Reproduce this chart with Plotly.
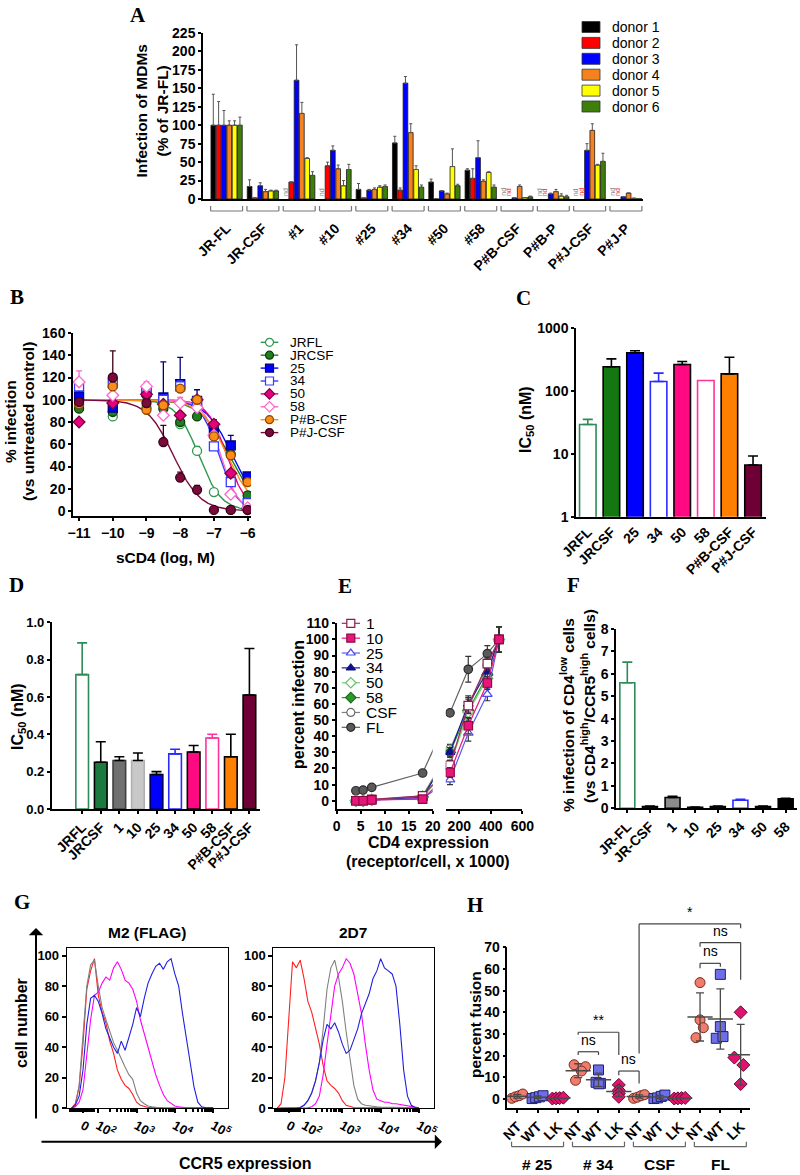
import numpy as np
import plotly.graph_objects as go

W, H = 800, 1175
FONT = "Liberation Sans"
SERIF = "Liberation Serif"

# ======================= DATA =======================
# ---- Panel A : infection of MDMs (% of JR-FL), six donors
A_GROUPS = ["JR-FL", "JR-CSF", "#1", "#10", "#25", "#34", "#50", "#58",
            "P#B-CSF", "P#B-P", "P#J-CSF", "P#J-P"]
A_DONORS = ["donor 1", "donor 2", "donor 3", "donor 4", "donor 5", "donor 6"]
A_DONOR1 = [100, 17, None, None, 13, 76, 23, 39, None, None, None, None]
A_DONOR2 = [100, 1.5, 23, 45, 1.5, 12, 0, 28, None, None, None, None]
A_DONOR3 = [100, 18, 161, 66, 12, 157, 11, 56, 1.5, 7, 66, 3]
A_DONOR4 = [100, 10, 116, 41, 13, 90, 7, 24, 17, 10, 93, 8]
A_DONOR5 = [100, 11, 55, 18, 16, 40, 44, 36, 2, 4, 46, 1]
A_DONOR6 = [100, 11, 32, 40, 17, 16, 18, 16, 3, 3, 51, 0.5]
A_DONOR1_ERR = [42, 9, 0, 0, 8, 9, 4, 2, 0, 0, 0, 0]
A_DONOR2_ERR = [32, 0, 0, 5, 0, 3, 0, 13, 0, 0, 0, 0]
A_DONOR3_ERR = [20, 4, 48, 6, 1, 9, 0, 23, 0, 1, 9, 0]
A_DONOR4_ERR = [6, 3, 15, 5, 2, 12, 1, 2, 2, 3, 9, 0]
A_DONOR5_ERR = [6, 1, 1, 7, 2, 5, 24, 1, 0, 3, 1, 0]
A_DONOR6_ERR = [11, 1, 5, 7, 2, 3, 2, 3, 1, 2, 11, 0]
A_Y_TICKS = [0, 25, 50, 75, 100, 125, 150, 175, 200, 225]

# ---- Panel B : sCD4 inhibition curves
B_DOSES = [-11, -10, -9, -8.5, -8, -7.5, -7, -6.5, -6]
B_SERIES = ["JRFL", "JRCSF", "25", "34", "50", "58", "P#B-CSF", "P#J-CSF"]
B_JRFL = [95, 85, 93, 95, 78, 54, 17, 1, 1]
B_JRCSF = [92, 89, 104, 92, 80, 85, 75, 51, 14]
B_25 = [103, 93, 107, 102, 114, 99, 70, 59, 31]
B_34 = [112, 115, 108, 100, 112, 98, 58, 26, 7]
B_50 = [80, 97, 105, 96, 86, 100, 78, 34, 2]
B_58 = [116, 104, 112, 86, 97, 93, 68, 15, 3]
B_PBCSF = [96, 112, 91, 95, 110, 100, 67, 50, 26]
B_PJCSF = [98, 120, 97, 62, 30, 19, 1, 1, 1]
B_JRFL_ERR = [0, 0, 0, 0, 0, 4, 0, 0, 0]
B_JRCSF_ERR = [0, 0, 3, 0, 0, 0, 5, 0, 3]
B_25_ERR = [8, 0, 6, 32, 24, 10, 6, 9, 3]
B_34_ERR = [5, 3, 4, 0, 5, 3, 3, 3, 2]
B_50_ERR = [0, 0, 0, 0, 0, 2, 4, 0, 0]
B_58_ERR = [10, 0, 4, 0, 5, 0, 0, 3, 0]
B_PBCSF_ERR = [0, 5, 0, 0, 0, 0, 0, 0, 2]
B_PJCSF_ERR = [0, 24, 0, 15, 5, 4, 0, 0, 0]
B_LOGIC50 = [-7.45, -6.55, -6.45, -6.85, -6.62, -6.80, -6.60, -8.20]   # fitted log IC50
B_HILL = [1.3, 1.0, 1.1, 1.6, 1.5, 1.7, 1.1, 1.1]                     # fitted Hill slopes
B_Y_TICKS = [0, 20, 40, 60, 80, 100, 120, 140, 160]
B_X_TICKS = [-11, -10, -9, -8, -7, -6]

# ---- Panel C : sCD4 IC50 (nM)
C_LABELS = ["JRFL", "JRCSF", "25", "34", "50", "58", "P#B-CSF", "P#J-CSF"]
C_IC50 = [29, 240, 400, 140, 260, 145, 185, 6.6]
C_ERR = [6, 80, 30, 50, 30, 0, 155, 2.6]

# ---- Panel D : IC50 (nM)
D_LABELS = ["JRFL", "JRCSF", "1", "10", "25", "34", "50", "58", "P#B-CSF", "P#J-CSF"]
D_IC50 = [0.72, 0.25, 0.26, 0.26, 0.185, 0.295, 0.305, 0.38, 0.28, 0.61]
D_ERR = [0.17, 0.11, 0.02, 0.04, 0.015, 0.025, 0.035, 0.02, 0.12, 0.25]
D_Y_TICKS = [0.0, 0.2, 0.4, 0.6, 0.8, 1.0]

# ---- Panel E : percent infection vs CD4 expression
E_CD4_LOW = [4.0, 5.5, 7.3, 17.9]
E_CD4_HIGH = [141, 257, 378, 452]
E_SERIES = ["1", "10", "25", "34", "50", "58", "CSF", "FL"]
E_1 = [0, 0, 0.8, 3.0, 22, 59, 85, 100]
E_10 = [0, 0, 0.5, 1.0, 17.5, 46.5, 73, 100]
E_25 = [0, 0, 0.3, 1.5, 13, 42, 66, 100]
E_34 = [0, 0, 0.5, 2.0, 30, 60, 80, 100]
E_50 = [0, 0, 0.5, 2.0, 22, 55, 76, 100]
E_58 = [0, 0, 0.5, 2.5, 30, 56, 78, 100]
E_CSF = [0, 0, 0.5, 3.0, 32, 58, 84, 100]
E_FL = [6.2, 6.6, 8.3, 17.2, 54.5, 81.5, 91.2, 100]
E_ERR = [0, 0, 0, 0, 3, 5, 4, 8]
E_FL_ERR = [0, 0, 0, 0, 0, 8, 5, 8]
E_Y_TICKS = [0, 10, 20, 30, 40, 50, 60, 70, 80, 90, 100, 110]
E_X_TICKS_LOW = [0, 5, 10, 15, 20]
E_X_TICKS_HIGH = [200, 400, 600]

# ---- Panel F : % infection of CD4low cells
F_LABELS = ["JR-FL", "JR-CSF", "1", "10", "25", "34", "50", "58"]
F_VALUES = [5.6, 0.08, 0.48, 0.05, 0.08, 0.36, 0.08, 0.42]
F_ERR = [0.92, 0.02, 0.05, 0.01, 0.02, 0.04, 0.02, 0.03]
F_Y_TICKS = [0, 1, 2, 3, 4, 5, 6, 7, 8]

# ---- Panel G : CCR5 flow histograms (channel = log10 position on biexponential scale)
G_CHANNEL = [1.3, 1.4, 1.5, 1.6, 1.7, 1.8, 1.9, 2.0, 2.1, 2.2, 2.3, 2.4, 2.5, 2.6, 2.7, 2.8, 2.9,
             3.0, 3.1, 3.2, 3.3, 3.4, 3.5, 3.6, 3.7, 3.8, 3.9, 4.0, 4.1, 4.2, 4.3, 4.4, 4.5,
             4.6, 4.7, 4.8, 4.9, 5.0]
G_M2_RED = [0, 3, 14, 42, 78, 90, 98, 74, 63, 56, 44, 36, 25, 19, 15, 13, 9,
            4, 2, 1, 0.5, 0.5, 0.3, 0.3, 0.2, 0.2, 0.2, 0.2, 0.2, 0.2, 0.2, 0.2, 0.2,
            0.2, 0.2, 0.2, 0.2, 0.2]
G_M2_GRAY = [0, 2, 15, 45, 80, 94, 97, 80, 66, 58, 50, 43, 38, 32, 27, 22, 19,
             10, 5, 3, 1.5, 1, 0.5, 0.4, 0.3, 0.3, 0.3, 0.3, 0.2, 0.2, 0.2, 0.2, 0.2,
             0.2, 0.2, 0.2, 0.2, 0.2]
G_M2_MAGENTA = [0, 1, 4, 12, 35, 58, 74, 76, 82, 86, 84, 92, 96, 91, 84, 82, 78,
                70, 58, 49, 40, 32, 22, 15, 9, 5, 3, 1.5, 1, 0.5, 0.4, 0.3, 0.3,
                0.3, 0.3, 0.3, 0.3, 0.3]
G_M2_BLUE = [0, 2, 8, 25, 55, 72, 74, 70, 62, 52, 46, 40, 36, 44, 38, 46, 55,
             66, 60, 72, 82, 88, 93, 95, 91, 96, 98, 88, 80, 62, 45, 28, 14,
             4, 1, 0.5, 0.3, 0.3]
G_2D7_RED = [0, 3, 20, 60, 96, 92, 97, 85, 70, 63, 52, 42, 28, 18, 15, 13, 10,
             5, 2, 1, 0.5, 0.4, 0.3, 0.3, 0.3, 0.3, 0.3, 0.3, 0.3, 0.3, 0.3, 0.3, 0.3,
             0.3, 0.3, 0.3, 0.3, 0.3]
G_2D7_GRAY = [0, 0, 0, 0, 0, 0.3, 0.5, 2, 5, 10, 18, 30, 52, 78, 92, 97, 86,
              70, 50, 32, 15, 6, 3, 2, 1.5, 1, 1, 0.8, 0.7, 0.6, 0.5, 0.5, 0.5,
              0.4, 0.3, 0.3, 0.3, 0.3]
G_2D7_MAGENTA = [0, 0, 0, 0, 0, 0, 0, 0, 0.3, 1, 3, 8, 22, 42, 62, 80, 88,
                 92, 98, 95, 88, 76, 62, 42, 25, 12, 6, 5, 4, 4, 3, 3, 2.5,
                 2, 1.5, 1, 0.5, 0.3]
G_2D7_BLUE = [0, 0, 0, 0, 0, 0, 0.5, 2, 5, 10, 18, 30, 45, 55, 52, 56, 50,
              42, 36, 38, 45, 52, 62, 68, 75, 85, 90, 98, 92, 90, 88, 80, 55,
              25, 8, 2, 0.5, 0.3]
G_TICKVALS = [1.6, 2, 3, 4, 5]
G_TICKTEXT = ["0", "10<sup>2</sup>", "10<sup>3</sup>", "10<sup>4</sup>", "10<sup>5</sup>"]
G_Y_TICKS = [0, 20, 40, 60, 80, 100]

# ---- Panel H : percent fusion
H_CATS = ["NT", "WT", "LK"] * 4
H_GROUP_LABELS = ["# 25", "# 34", "CSF", "FL"]
H_NT_25 = [0.3, 1.0, 1.5, 2.3]
H_WT_25 = [0.2, 0.6, 1.0, 1.5]
H_LK_25 = [0.2, 0.3, 0.4, 0.6]
H_NT_34 = [15.8, 14.9, 12.9, 8.6]
H_WT_34 = [13.4, 7.7, 7.2, 7.0]
H_LK_34 = [6.5, 4.0, 2.5, 1.0]
H_NT_CSF = [0.3, 0.8, 1.5, 2.0]
H_WT_CSF = [0.2, 0.5, 1.2, 1.8]
H_LK_CSF = [0.2, 0.3, 0.4, 0.5]
H_NT_FL = [53.7, 36.5, 32.9, 28.3]
H_WT_FL = [57.5, 33.4, 28.0, 28.8]
H_LK_FL = [40.0, 19.1, 15.7, 6.9]
H_Y_TICKS = [0, 10, 20, 30, 40, 50, 60, 70]
# significance: (from category, to category, bracket top, left leg end, right leg end, label)
H_SIG = [(3, 4, 21.8, 20.3, 20.3, "ns"),
         (3, 5, 30.8, 29.6, 20.3, "**"),
         (5, 6, 12.9, 11.0, 7.2, "ns"),
         (6, 11, 80.8, 21.0, 78.8, "*"),
         (9, 10, 62.6, 60.3, 61.0, "ns"),
         (9, 11, 72.2, 70.3, 55.0, "ns")]

# ======================= STYLE / GEOMETRY =======================
A_COLORS = ["#000000", "#ff0000", "#0000ff", "#f5821f", "#ffff00", "#3d7f0a"]
B_FILL = ["white", "#1f7f1f", "#0000ff", "white", "#e6007e", "white", "#ff8c1a", "#7a0a3c"]
B_EDGE = ["#2e9a4e", "#0d3d0d", "#00007a", "#3a3aff", "#7a0040", "#ff66cc", "#8a4a00", "#3a0018"]
B_LINE = ["#2e9a4e", "#1f7f1f", "#0000ff", "#3a3aff", "#e6007e", "#ff66cc", "#ff8c1a", "#7a0a3c"]
B_SYMBOL = ["circle", "circle", "square", "square", "diamond", "diamond", "circle", "circle"]
C_FILL = ["white", "#12780f", "#0000ff", "white", "#ff0a82", "white", "#ff8000", "#6e0036"]
C_EDGE = ["#2e8b57", "black", "black", "#2a2aff", "black", "#ff3399", "black", "black"]
D_FILL = ["white", "#1b7a3e", "#707070", "#c8c8c8", "#0000ff", "white", "#ff0a82", "white", "#ff8000", "#6e0036"]
D_EDGE = ["#2e8b57", "black", "#404040", "#b0b0b0", "#000060", "#2a2aff", "black", "#ff3399", "black", "black"]
E_SYMBOL = ["square", "square", "triangle-up", "triangle-up", "diamond", "diamond", "circle", "circle"]
E_FILL = ["white", "#e8157c", "white", "#10108a", "white", "#2a9a2a", "white", "#5a5a5a"]
E_EDGE = ["#8a1a50", "#8a0a40", "#4a4aee", "#10108a", "#6abf6a", "#1a6a1a", "#6a6a6a", "#2a2a2a"]
E_LINE = ["#9b2a62", "#e8157c", "#5a5aee", "#1a1a9a", "#7acc7a", "#2a9a2a", "#808080", "#606060"]
F_FILL = ["white", "#1e3b1e", "#8c8c8c", "#111111", "#101040", "white", "#111111", "#000000"]
F_EDGE = ["#2e8b57", "black", "black", "black", "black", "#2a2aff", "black", "black"]
G_COLORS = ["#ff2020", "#808080", "#ff00ff", "#2020e0"]
H_FILL = ["#f07c6c", "#6e6ee6", "#e0146e"]
H_EDGE = ["#7a2a20", "#202070", "#6a0030"]
H_SYMBOL = ["circle", "square", "diamond"]

# pixel geometry of each plot area: x pixels (left,right), x range, y pixels (bottom,top), y range
GEO = {
    "A": dict(x=(203, 643), xr=(-0.65, 11.47), y=(199, 33), yr=(0, 225)),
    "B": dict(x=(73, 251), xr=(-11.18, -5.9), y=(516, 333), yr=(-4.5, 160)),
    "C": dict(x=(576, 766), xr=(-0.5, 7.55), y=(516.7, 327.7), yr=(0, 3), ylog=True),
    "D": dict(x=(51.7, 260), xr=(-1.64, 9.57), y=(809, 622.3), yr=(0, 1.0)),
    "E1": dict(x=(336.7, 432.7), xr=(0, 20), y=(809.3, 623.3), yr=(-5.3, 110)),
    "E2": dict(x=(445.7, 522.3), xr=(113.7, 600), y=(809.3, 623.3), yr=(-5.3, 110)),
    "F": dict(x=(616, 797), xr=(-0.5, 7.5), y=(808.3, 629), yr=(0, 8)),
    "G1": dict(x=(66.7, 227.7), xr=(1.175, 5.38), y=(1108.3, 948.3), yr=(0, 104.8)),
    "G2": dict(x=(273.3, 434.3), xr=(1.198, 5.40), y=(1108.3, 948.3), yr=(0, 104.8)),
    "H": dict(x=(507.3, 750), xr=(-0.49, 11.46), y=(1108.3, 947.3), yr=(-4.3, 70)),
}


def mapx(p, v):
    g = GEO[p]
    (p0, p1), (r0, r1) = g["x"], g["xr"]
    return p0 + (v - r0) / (r1 - r0) * (p1 - p0)


def invx(p, px):
    g = GEO[p]
    (p0, p1), (r0, r1) = g["x"], g["xr"]
    return r0 + (px - p0) / (p1 - p0) * (r1 - r0)


def mapy(p, v):
    g = GEO[p]
    (p0, p1), (r0, r1) = g["y"], g["yr"]
    if g.get("ylog"):
        v = np.log10(v)
    return p0 + (v - r0) / (r1 - r0) * (p1 - p0)


shapes, anns = [], []


def line(x0, y0, x1, y1, color="black", width=1.0):
    shapes.append(dict(type="line", xref="paper", yref="paper",
                       x0=x0 / W, y0=1 - y0 / H, x1=x1 / W, y1=1 - y1 / H,
                       line=dict(color=color, width=width)))


def text(t, x, y, size=16, bold=True, angle=0, xanchor="center", yanchor="middle",
         family=FONT, color="black"):
    anns.append(dict(text=f"<b>{t}</b>" if bold else t, x=x / W, y=1 - y / H,
                     xref="paper", yref="paper", showarrow=False, textangle=angle,
                     xanchor=xanchor, yanchor=yanchor,
                     font=dict(family=family, size=size, color=color)))


def nz(arr):
    return [e if e else None for e in arr]


def base_axis(size=14):
    return dict(showline=True, linecolor="black", linewidth=1.5, ticks="outside",
                ticklen=3, tickwidth=1.5, tickcolor="black", showgrid=False,
                zeroline=False, fixedrange=True, automargin=False,
                tickfont=dict(family=FONT, size=size, color="black", weight="bold"))


def xax(p, anchor, **kw):
    g = GEO[p]
    d = base_axis(kw.pop("size", 14))
    d.update(domain=[g["x"][0] / W, g["x"][1] / W], range=list(g["xr"]), anchor=anchor)
    d.update(kw)
    return d


def yax(p, anchor, **kw):
    g = GEO[p]
    d = base_axis(kw.pop("size", 14))
    d.update(domain=[1 - g["y"][0] / H, 1 - g["y"][1] / H], range=list(g["yr"]), anchor=anchor)
    d.update(kw)
    return d


fig = go.Figure()
OV = dict(xaxis="x11", yaxis="y11")  # full-page pixel overlay, used for legend glyphs

# ======================= PANEL A =======================
A_VALUES = [A_DONOR1, A_DONOR2, A_DONOR3, A_DONOR4, A_DONOR5, A_DONOR6]
A_ERRS = [A_DONOR1_ERR, A_DONOR2_ERR, A_DONOR3_ERR, A_DONOR4_ERR, A_DONOR5_ERR, A_DONOR6_ERR]
nA = len(A_GROUPS)
for k in range(6):
    fig.add_trace(go.Bar(
        x=list(range(nA)), y=A_VALUES[k], name=A_DONORS[k], showlegend=False,
        marker=dict(color=A_COLORS[k], line=dict(color="#1a1a1a", width=0.8)),
        error_y=dict(type="data", symmetric=False, array=nz(A_ERRS[k]), arrayminus=[0] * nA,
                     color="#555555", thickness=1, width=1.5),
        xaxis="x", yaxis="y"))
GROUP_W = 0.88
for k in range(2):
    for g in range(nA):
        if A_VALUES[k][g] is None:
            xc = g - GROUP_W / 2 + (k + 0.5) * GROUP_W / 6
            text("nd", mapx("A", xc), mapy("A", 0) - 1, size=7, bold=False, angle=-90,
                 yanchor="bottom", color=["#888888", "#ff3030"][k])
for g in range(nA):
    x0, x1 = mapx("A", g - 0.44), mapx("A", g + 0.44)
    line(x0, 211, x1, 211, "#777777", 1.2)
    line(x0, 211, x0, 206, "#777777", 1.2)
    line(x1, 211, x1, 206, "#777777", 1.2)
for k, nm in enumerate(A_DONORS):
    yc = 27 + k * 15.9
    shapes.append(dict(type="rect", xref="paper", yref="paper", x0=582 / W, x1=600 / W,
                       y0=1 - (yc + 5.5) / H, y1=1 - (yc - 5.5) / H,
                       fillcolor=A_COLORS[k], line=dict(color="#333333", width=0.8)))
    text(nm, 610, yc, size=14, bold=False, xanchor="left")
text("Infection of MDMs", 141.5, 111, size=15.5, angle=-90)
text("(% of JR-FL)", 162.5, 111, size=15.5, angle=-90)
text("A", 138, 15, size=21, family=SERIF)

# ======================= PANEL B =======================
B_VALUES = [B_JRFL, B_JRCSF, B_25, B_34, B_50, B_58, B_PBCSF, B_PJCSF]
B_ERRS = [B_JRFL_ERR, B_JRCSF_ERR, B_25_ERR, B_34_ERR, B_50_ERR, B_58_ERR, B_PBCSF_ERR, B_PJCSF_ERR]
dose_fine = np.linspace(B_DOSES[0], B_DOSES[-1], 240)
for i in range(len(B_SERIES)):
    fit = 100.0 / (1.0 + 10 ** ((dose_fine - B_LOGIC50[i]) * B_HILL[i]))
    fig.add_trace(go.Scatter(x=dose_fine, y=fit, mode="lines", showlegend=False,
                             line=dict(color=B_LINE[i], width=1.4), xaxis="x2", yaxis="y2"))
for i in range(len(B_SERIES)):
    fig.add_trace(go.Scatter(
        x=B_DOSES, y=B_VALUES[i], mode="markers", showlegend=False, name=B_SERIES[i],
        marker=dict(symbol=B_SYMBOL[i], size=9, color=B_FILL[i], line=dict(color=B_EDGE[i], width=1.3)),
        error_y=dict(type="data", symmetric=False, array=nz(B_ERRS[i]), arrayminus=[0] * len(B_DOSES),
                     color=B_EDGE[i] if B_FILL[i] != "white" else B_LINE[i], thickness=1.3, width=3),
        xaxis="x2", yaxis="y2"))
# legend
for i, nm in enumerate(B_SERIES):
    yc = 342.3 + i * 12.9
    fig.add_trace(go.Scatter(x=[260.7, 278.3], y=[yc, yc], mode="lines", showlegend=False,
                             line=dict(color=B_LINE[i], width=1.4), **OV))
    text(nm, 287.5, yc, size=13.5, bold=False, xanchor="left")
fig.add_trace(go.Scatter(x=[269.5] * 8, y=[342.3 + i * 12.9 for i in range(8)], mode="markers",
                         showlegend=False,
                         marker=dict(symbol=B_SYMBOL, size=8, color=B_FILL,
                                     line=dict(color=B_EDGE, width=1.2)), **OV))
text("% infection", 11, 422, size=15.5, angle=-90)
text("(vs untreated control)", 29, 422, size=15.5, angle=-90)
text("sCD4 (log, M)", 165, 557, size=15.5)
text("B", 17, 297, size=21, family=SERIF)

# ======================= PANEL C =======================
nC = len(C_LABELS)
fig.add_trace(go.Bar(x=list(range(nC)), y=C_IC50, width=0.7, showlegend=False,
                     marker=dict(color=C_FILL, line=dict(color=C_EDGE, width=1.6)),
                     xaxis="x3", yaxis="y3"))
for i in range(nC):
    if C_ERR[i]:
        fig.add_trace(go.Scatter(x=[i], y=[C_IC50[i]], mode="markers", showlegend=False,
                                 marker=dict(size=1, color="rgba(0,0,0,0)"),
                                 error_y=dict(type="data", symmetric=False, array=[C_ERR[i]],
                                              arrayminus=[0], color=C_EDGE[i], thickness=1.6, width=5),
                                 xaxis="x3", yaxis="y3"))
text("IC<sub>50</sub> (nM)", 526, 420, size=16, angle=-90)
text("C", 523, 298, size=21, family=SERIF)

# ======================= PANEL D =======================
nD = len(D_LABELS)
fig.add_trace(go.Bar(x=list(range(nD)), y=D_IC50, width=0.68, showlegend=False,
                     marker=dict(color=D_FILL, line=dict(color=D_EDGE, width=1.6)),
                     xaxis="x4", yaxis="y4"))
for i in range(nD):
    fig.add_trace(go.Scatter(x=[i], y=[D_IC50[i]], mode="markers", showlegend=False,
                             marker=dict(size=1, color="rgba(0,0,0,0)"),
                             error_y=dict(type="data", symmetric=False, array=[D_ERR[i]],
                                          arrayminus=[0], color=D_EDGE[i] if D_FILL[i] == "white" else "black",
                                          thickness=1.6, width=5),
                             xaxis="x4", yaxis="y4"))
text("IC<sub>50</sub> (nM)", 18, 717, size=16, angle=-90)
text("D", 16, 585, size=21, family=SERIF)

# ======================= PANEL E =======================
E_VALUES = [E_1, E_10, E_25, E_34, E_50, E_58, E_CSF, E_FL]
nlow = len(E_CD4_LOW)
order = [7, 6, 5, 4, 3, 2, 0, 1]
for i in order:
    vals = E_VALUES[i]
    errs = E_FL_ERR if E_SERIES[i] == "FL" else E_ERR
    mk = dict(symbol=E_SYMBOL[i], size=8.5, color=E_FILL[i], line=dict(color=E_EDGE[i], width=1.2))
    # connector across the axis break (drawn in screen space, clipped at the break)
    x_equiv = invx("E1", mapx("E2", E_CD4_HIGH[0]))
    fig.add_trace(go.Scatter(x=[E_CD4_LOW[-1], x_equiv], y=[vals[nlow - 1], vals[nlow]], mode="lines",
                             showlegend=False, line=dict(color=E_LINE[i], width=1.2),
                             xaxis="x5", yaxis="y5"))
    fig.add_trace(go.Scatter(x=E_CD4_LOW, y=vals[:nlow], mode="lines+markers", showlegend=False,
                             line=dict(color=E_LINE[i], width=1.2), marker=mk, xaxis="x5", yaxis="y5"))
    fig.add_trace(go.Scatter(x=E_CD4_HIGH, y=vals[nlow:], mode="lines+markers", showlegend=False,
                             line=dict(color=E_LINE[i], width=1.2), marker=mk,
                             error_y=dict(type="data", array=nz(errs[nlow:]), color="#333333",
                                          thickness=1.2, width=3),
                             xaxis="x6", yaxis="y5"))
for i, nm in enumerate(E_SERIES):
    yc = 623.3 + i * 14.86
    fig.add_trace(go.Scatter(x=[341.7, 360], y=[yc, yc], mode="lines", showlegend=False,
                             line=dict(color=E_LINE[i], width=1.2), **OV))
    text(nm, 364, yc, size=15.5, bold=False, xanchor="left")
fig.add_trace(go.Scatter(x=[350.8] * 8, y=[623.3 + i * 14.86 for i in range(8)], mode="markers",
                         showlegend=False,
                         marker=dict(symbol=E_SYMBOL, size=8, color=E_FILL,
                                     line=dict(color=E_EDGE, width=1.2)), **OV))
text("percent infection", 298, 705, size=16, angle=-90)
text("CD4 expression", 428, 843, size=16)
text("(receptor/cell, x 1000)", 428, 861, size=16)
text("E", 345, 586, size=21, family=SERIF)

# ======================= PANEL F =======================
nF = len(F_LABELS)
fig.add_trace(go.Bar(x=list(range(nF)), y=F_VALUES, width=0.66, showlegend=False,
                     marker=dict(color=F_FILL, line=dict(color=F_EDGE, width=1.6)),
                     xaxis="x7", yaxis="y7"))
for i in range(nF):
    fig.add_trace(go.Scatter(x=[i], y=[F_VALUES[i]], mode="markers", showlegend=False,
                             marker=dict(size=1, color="rgba(0,0,0,0)"),
                             error_y=dict(type="data", symmetric=False, array=[F_ERR[i]],
                                          arrayminus=[0], color=F_EDGE[i], thickness=1.6, width=5),
                             xaxis="x7", yaxis="y7"))
text("% infection of CD4<sup>low</sup> cells", 567, 715, size=15.5, angle=-90)
text("(vs CD4<sup>high</sup>/CCR5<sup>high</sup> cells)", 588, 706, size=15.5, angle=-90)
text("F", 573, 585, size=21, family=SERIF)

# ======================= PANEL G =======================
G_SETS = [("x8", "y8", [G_M2_RED, G_M2_GRAY, G_M2_MAGENTA, G_M2_BLUE]),
          ("x9", "y9", [G_2D7_RED, G_2D7_GRAY, G_2D7_MAGENTA, G_2D7_BLUE])]
for xa, ya, curves in G_SETS:
    for c, ys in enumerate(curves):
        fig.add_trace(go.Scatter(x=G_CHANNEL, y=ys, mode="lines", showlegend=False,
                                 line=dict(color=G_COLORS[c], width=1.1),
                                 xaxis=xa, yaxis=ya))
text("M2 (FLAG)", 147, 932, size=15.5)
text("2D7", 353, 932, size=15.5)
text("cell number", 22, 1023, size=16, angle=-90)
text("CCR5 expression", 245, 1163, size=16)
anns.append(dict(x=36 / W, y=1 - 928 / H, xref="paper", yref="paper", ax=0, ay=192,
                 showarrow=True, arrowhead=1, arrowsize=1.2, arrowwidth=2, arrowcolor="black", text=""))
anns.append(dict(x=442 / W, y=1 - 1141.7 / H, xref="paper", yref="paper", ax=-402, ay=0,
                 showarrow=True, arrowhead=1, arrowsize=1.2, arrowwidth=2, arrowcolor="black", text=""))
text("G", 22, 902, size=21, family=SERIF)
g_minor = sorted([np.log10(m * 10 ** e) for e in (2, 3, 4) for m in range(2, 10)] +
                 [1.25, 1.3, 1.35, 1.4, 1.45, 1.5, 1.55, 1.65, 1.7, 1.75, 1.8, 1.85, 1.9])

# ======================= PANEL H =======================
H_VALUES = [H_NT_25, H_WT_25, H_LK_25, H_NT_34, H_WT_34, H_LK_34,
            H_NT_CSF, H_WT_CSF, H_LK_CSF, H_NT_FL, H_WT_FL, H_LK_FL]
H_JITTER = {3: [-0.2, 0.36, 0.16, -0.13], 4: [0.0, -0.12, 0.1, 0.02], 5: [0.0, 0.0, 0.0, 0.0],
            9: [0.0, 0.0, 0.16, -0.2], 10: [0.0, 0.0, -0.2, 0.13], 11: [0.0, -0.31, 0.13, 0.0]}
H_SPREAD = [-0.27, -0.09, 0.09, 0.27]
for j, vals in enumerate(H_VALUES):
    jit = H_JITTER.get(j, H_SPREAD)
    m = float(np.mean(vals))
    sd = float(np.std(vals, ddof=1))
    fig.add_trace(go.Scatter(x=[j + d for d in jit], y=vals, mode="markers", showlegend=False,
                             marker=dict(symbol=H_SYMBOL[j % 3], size=10, color=H_FILL[j % 3],
                                         line=dict(color=H_EDGE[j % 3], width=1)),
                             xaxis="x10", yaxis="y10"))
    fig.add_trace(go.Scatter(x=[j], y=[m], mode="markers", showlegend=False,
                             marker=dict(symbol="line-ew", size=18, line=dict(color="#4a4a4a", width=1.5)),
                             error_y=dict(type="data", array=[sd], color="#4a4a4a", thickness=1.3, width=4),
                             xaxis="x10", yaxis="y10"))
for (c0, c1, ytop, yl, yr_, lab) in H_SIG:
    x0, x1 = mapx("H", c0), mapx("H", c1)
    yt = mapy("H", ytop)
    line(x0, yt, x1, yt, "#444444", 1.2)
    line(x0, yt, x0, mapy("H", yl), "#444444", 1.2)
    line(x1, yt, x1, mapy("H", yr_), "#444444", 1.2)
    text(lab, (x0 + x1) / 2, yt - 2, size=14, bold=False, yanchor="bottom")
for gi, lab in enumerate(H_GROUP_LABELS):
    x0, x1 = mapx("H", 3 * gi - 0.28), mapx("H", 3 * gi + 2.28)
    line(x0, 1146.7, x1, 1146.7, "#666666", 1.2)
    line(x0, 1146.7, x0, 1141.7, "#666666", 1.2)
    line(x1, 1146.7, x1, 1141.7, "#666666", 1.2)
    text(lab, (x0 + x1) / 2, 1164, size=15.5)
text("percent fusion", 475, 1025, size=15.5, angle=-90)
text("H", 475, 905, size=21, family=SERIF)

# ======================= LAYOUT =======================
layout = dict(
    template="none",
    width=W, height=H, autosize=False, margin=dict(l=0, r=0, t=0, b=0, pad=0),
    paper_bgcolor="white", plot_bgcolor="rgba(0,0,0,0)", showlegend=False,
    barmode="group", bargap=0.12, bargroupgap=0.12,
    font=dict(family=FONT, color="black"),
    xaxis=xax("A", "y", tickvals=list(range(nA)), ticktext=A_GROUPS, tickangle=-45, ticks="",
              ticklabelstandoff=14),
    yaxis=yax("A", "x", tickvals=A_Y_TICKS),
    xaxis2=xax("B", "y2", tickvals=B_X_TICKS),
    yaxis2=yax("B", "x2", tickvals=B_Y_TICKS),
    xaxis3=xax("C", "y3", tickvals=list(range(nC)), ticktext=C_LABELS, tickangle=-45, ticks=""),
    yaxis3=yax("C", "x3", type="log", tickvals=[1, 10, 100, 1000], ticktext=["1", "10", "100", "1000"]),
    xaxis4=xax("D", "y4", tickvals=list(range(nD)), ticktext=D_LABELS, tickangle=-45),
    yaxis4=yax("D", "x4", size=13, tickvals=D_Y_TICKS, tickformat=".1f"),
    xaxis5=xax("E1", "y5", tickvals=E_X_TICKS_LOW),
    yaxis5=yax("E1", "x5", tickvals=E_Y_TICKS),
    xaxis6=xax("E2", "y5", tickvals=E_X_TICKS_HIGH),
    xaxis7=xax("F", "y7", tickvals=list(range(nF)), ticktext=F_LABELS, tickangle=-45),
    yaxis7=yax("F", "x7", tickvals=F_Y_TICKS),
    xaxis8=xax("G1", "y8", size=13, tickvals=G_TICKVALS, ticktext=G_TICKTEXT, mirror=True, linewidth=1,
               ticklen=4, minor=dict(tickvals=g_minor, ticks="outside", ticklen=2.5, tickcolor="black")),
    yaxis8=yax("G1", "x8", size=13, tickvals=G_Y_TICKS, mirror=True, linewidth=1, ticklen=4),
    xaxis9=xax("G2", "y9", size=13, tickvals=G_TICKVALS, ticktext=G_TICKTEXT, mirror=True, linewidth=1,
               ticklen=4, minor=dict(tickvals=g_minor, ticks="outside", ticklen=2.5, tickcolor="black")),
    yaxis9=yax("G2", "x9", size=13, tickvals=G_Y_TICKS, mirror=True, linewidth=1, ticklen=4),
    xaxis10=xax("H", "y10", tickvals=list(range(12)), ticktext=H_CATS, tickangle=-45),
    yaxis10=yax("H", "x10", tickvals=H_Y_TICKS),
    xaxis11=dict(domain=[0, 1], range=[0, W], visible=False, fixedrange=True, anchor="y11"),
    yaxis11=dict(domain=[0, 1], range=[H, 0], visible=False, fixedrange=True, anchor="x11"),
    shapes=shapes, annotations=anns,
)
fig.update_layout(**layout)
fig.write_html("out.html", config={"displayModeBar": False},
               post_script="document.body.style.margin='0px';document.body.style.overflow='hidden';")
